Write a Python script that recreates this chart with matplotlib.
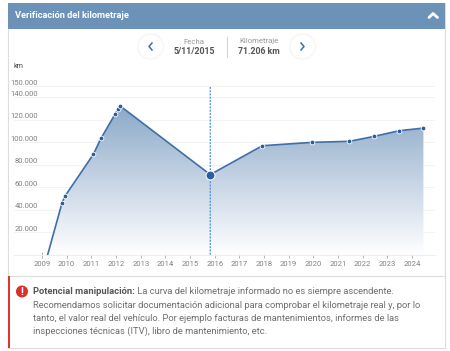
import numpy as np
import matplotlib
matplotlib.use("Agg")
import matplotlib.pyplot as plt
from matplotlib.colors import LinearSegmentedColormap
from matplotlib.patches import Rectangle, Circle

plt.rcParams['font.family'] = ['Roboto', 'DejaVu Sans']

years = [2009.23, 2009.81, 2009.93, 2011.08, 2011.39, 2011.97, 2012.08, 2012.16,
         2015.82, 2017.93, 2019.96, 2021.46, 2022.46, 2023.47, 2024.46]
km = [0, 46000, 52000, 89200, 103400, 125300, 129800, 132400,
      71206, 96900, 99900, 100800, 105200, 110200, 112600]
selected_year = 2015.82
selected_km = 71206
x_ticks = list(range(2009, 2025))
y_ticks = [20000, 40000, 60000, 80000, 100000, 120000, 140000, 150000]
y_labels = ['20.000', '40.000', '60.000', '80.000', '100.000', '120.000', '140.000', '150.000']
title = 'Verificación del kilometraje'
alert_bold = 'Potencial manipulación:'
alert_lines = [' La curva del kilometraje informado no es siempre ascendente.',
               'Recomendamos solicitar documentación adicional para comprobar el kilometraje real y, por lo',
               'tanto, el valor real del vehículo. Por ejemplo facturas de mantenimientos, informes de las',
               'inspecciones técnicas (ITV), libro de mantenimiento, etc.']

W, H = 450, 351
fig = plt.figure(figsize=(W / 100, H / 100), dpi=100, facecolor='white')
ov = fig.add_axes([0, 0, 1, 1], zorder=0)
ov.set_xlim(0, W); ov.set_ylim(H, 0); ov.axis('off')

# panel
ov.add_patch(Rectangle((8, 2.5), 437, 345, fc='white', ec='#DDDDDD', lw=0.8))
ov.add_patch(Rectangle((8, 2.5), 437, 26.5, fc='#6C93B7', ec='none'))
ov.text(15, 15.5, title, color='white', fontsize=6.7, fontweight='bold', va='center')
ov.plot([429, 433, 437.5], [17.5, 13.5, 17.5], color='white', lw=2.0, solid_capstyle='round')

# navigation
for cx, pts in ((150.5, [(152, 43), (149, 46.5), (152, 50)]), (302.5, [(301, 43), (304, 46.5), (301, 50)])):
    for r, a in ((14, .02), (13.2, .03), (12.6, .04)):
        ov.add_patch(Circle((cx, 46.5), r, fc='#888888', ec='none', alpha=a))
    ov.add_patch(Circle((cx, 46.5), 12, fc='white', ec='none'))
    ov.plot(*zip(*pts), color='#3F6FA8', lw=1.1)
ov.plot([226.5, 226.5], [36.5, 56.5], color='#D5D5D5', lw=0.8)
ov.text(194, 41.5, 'Fecha', color='#999999', fontsize=5.6, ha='center', va='center')
ov.text(194, 51.7, '5/11/2015', color='#555555', fontsize=6.3, fontweight='bold', ha='center', va='center')
ov.text(259, 41.5, 'Kilometraje', color='#999999', fontsize=5.6, ha='center', va='center')
ov.text(259, 51.7, '71.206 km', color='#555555', fontsize=6.3, fontweight='bold', ha='center', va='center')
ov.text(14, 67, 'km', color='#444444', fontsize=5.2, va='center')

# chart axes
px_left, px_right, px_top, px_base = 14, 435, 86, 254.7
ax = fig.add_axes([px_left / W, 1 - px_base / H, (px_right - px_left) / W, (px_base - px_top) / H],
                  zorder=1, facecolor='none')
ppy = 24.67
ax.set_xlim(2009 - 28 / ppy, 2009 + (px_right - 42) / ppy)
ax.set_ylim(0, 150000)
for s in ('top', 'right', 'left'):
    ax.spines[s].set_visible(False)
ax.spines['bottom'].set_color('#EEEEEE'); ax.spines['bottom'].set_linewidth(0.7)
ax.set_xticks(x_ticks)
ax.set_xticklabels([str(v) for v in x_ticks])
ax.tick_params(axis='x', direction='inout', length=4, width=0.6, color='#AAAAAA',
               labelsize=5.5, labelcolor='#808080', pad=2.5)
ax.set_yticks(y_ticks)
ax.set_yticklabels([])
ax.tick_params(axis='y', length=0)
ax.grid(axis='y', color='#F3F3F3', lw=0.7)
ax.set_axisbelow(True)
for v, lab in zip(y_ticks, y_labels):
    ax.annotate(lab, xy=(0, v), xycoords=ax.get_yaxis_transform(), xytext=(24 * .72, 3.3 * .72),
                textcoords='offset points', ha='right', va='center', fontsize=5.5, color='#808080')

# gradient area
poly = ax.fill_between(years, km, 0, color='none')
cmap = LinearSegmentedColormap.from_list('fade', ['#FFFFFF', '#8CA9C9'])
im = ax.imshow(np.linspace(1, 0, 256).reshape(-1, 1), cmap=cmap, vmin=0, vmax=1, aspect='auto',
               extent=(years[0], years[-1], 0, max(km)), zorder=1.5)
im.set_clip_path(poly.get_paths()[0], ax.transData)
ax.set_xlim(2009 - 28 / ppy, 2009 + (px_right - 42) / ppy)
ax.set_ylim(0, 150000)

ax.plot([selected_year, selected_year], [0, 150000], color='#4A90D9', lw=0.9,
        ls=(0, (1.6, 1.0)), zorder=2, snap=False)
ax.plot(years, km, color='#3F6FA8', lw=1.2, zorder=3)
ax.plot(years[1:], km[1:], ls='none', marker='o', ms=3.4, mfc='#2A5E9E', mec='white', mew=0.6, zorder=4)
ax.plot([selected_year], [selected_km], ls='none', marker='o', ms=6.4, mfc='#2A5E9E', mec='white', mew=0.7, zorder=5)

# alert
ov.add_patch(Rectangle((8, 276), 437, 71.5, fc='white', ec='#DDDDDD', lw=0.8, zorder=2))
ov.add_patch(Rectangle((8, 276), 2.2, 71.5, fc='#E0352B', ec='none', zorder=3))
ov.add_patch(Circle((22, 291.5), 6, fc='#D9302A', ec='none', zorder=3))
ov.text(22, 291.6, '!', color='white', fontsize=7.5, fontweight='bold', ha='center', va='center', zorder=4)
ys = [291.7, 305, 318.3, 331.7]
fs = 6.78
b = ov.text(33, ys[0], alert_bold, color='#555555', fontsize=fs, fontweight='bold', va='center', zorder=4)
fig.canvas.draw()
bw = b.get_window_extent().width
ov.text(33 + bw, ys[0], alert_lines[0], color='#6E6E6E', fontsize=fs, va='center', zorder=4)
for y, line in zip(ys[1:], alert_lines[1:]):
    ov.text(33, y, line, color='#6E6E6E', fontsize=fs, va='center', zorder=4)

fig.savefig('out.png', dpi=100, facecolor='white')
